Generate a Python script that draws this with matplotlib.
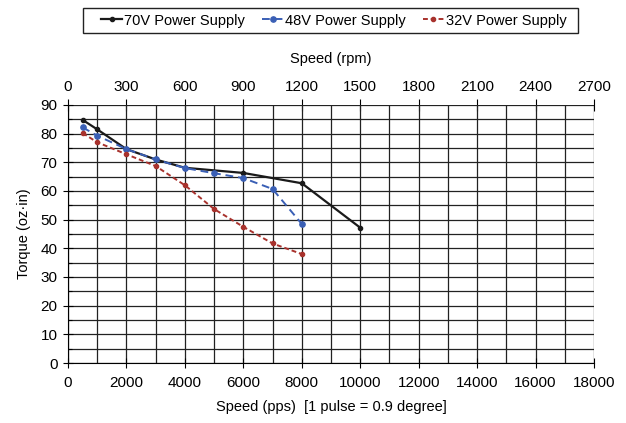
import matplotlib.pyplot as plt
from matplotlib.patches import Rectangle
from matplotlib.ticker import MultipleLocator

plt.rcParams['font.family'] = ['Liberation Sans', 'DejaVu Sans']

speed_70 = [500, 1000, 2000, 3000, 4000, 6000, 8000, 10000]
torque_70 = [84.8, 81.5, 74.6, 71.0, 68.1, 66.3, 62.7, 47.2]

speed_48 = [500, 1000, 2000, 3000, 4000, 5000, 6000, 7000, 8000]
torque_48 = [82.2, 79.3, 74.6, 71.0, 68.0, 66.2, 64.5, 60.7, 48.5]

speed_32 = [500, 1000, 2000, 3000, 4000, 5000, 6000, 7000, 8000]
torque_32 = [80.2, 77.0, 72.8, 68.7, 62.0, 53.7, 47.5, 41.7, 38.0]

tick_fs = 11
label_fs = 10.5
fig = plt.figure(figsize=(6.26, 4.23), dpi=100)
ax = fig.add_axes([68 / 626, 1 - 363 / 423, (594 - 68) / 626, (363 - 105) / 423])

ax.plot(speed_70, torque_70, color='#1a1a1a', lw=1.6, marker='o', ms=3,
        label='70V Power Supply')
ax.plot(speed_48, torque_48, color='#3a5fb5', lw=1.4, ls=(0, (4, 2.5)), marker='o', ms=3.8,
        label='48V Power Supply')
ax.plot(speed_32, torque_32, color='#a8322d', lw=1.4, ls=(0, (2.5, 1.5)), marker='o', ms=3,
        label='32V Power Supply')

ax.set_xlim(0, 18000)
ax.set_ylim(0, 90)
ax.xaxis.set_major_locator(MultipleLocator(2000))
ax.xaxis.set_minor_locator(MultipleLocator(1000))
ax.yaxis.set_major_locator(MultipleLocator(10))
ax.yaxis.set_minor_locator(MultipleLocator(5))
ax.grid(which='both', color='#222222', lw=0.9)
ax.set_axisbelow(True)
for s in ax.spines.values():
    s.set_visible(False)
ax.spines['left'].set_visible(True)
ax.spines['bottom'].set_visible(True)
ax.tick_params(which='major', labelsize=tick_fs, length=7, width=0.8, direction='inout')
ax.tick_params(axis='x', which='major', pad=6)
ax.tick_params(axis='y', which='major', pad=4)
ax.tick_params(which='minor', length=3, width=0.8, direction='in')
ax.tick_params(axis='x', which='minor', length=0)

ax.set_xlabel('Speed (pps)  [1 pulse = 0.9 degree]', fontsize=label_fs, labelpad=7)
ax.set_ylabel('Torque (oz·in)', fontsize=label_fs, labelpad=7)

top = ax.secondary_xaxis('top', functions=(lambda x: x * 0.15, lambda r: r / 0.15))
top.set_xticks(range(0, 2701, 300))
top.tick_params(labelsize=tick_fs, length=8, width=0.8, direction='inout', pad=4)
top.spines['top'].set_visible(False)
top.set_xlabel('Speed (rpm)', fontsize=label_fs, labelpad=12)

# legend entries spread across the box, frame drawn separately
leg = fig.legend(loc='center left', bbox_to_anchor=(101 / 626, 1 - 33 / 423, 466 / 626, 25 / 423),
                 mode='expand', ncol=3, fontsize=label_fs, frameon=False,
                 handlelength=1.45, handletextpad=0.15, columnspacing=1.0,
                 borderpad=0.0, borderaxespad=0)
fig.patches.append(Rectangle((83 / 626, 1 - 33 / 423), 495 / 626, 25 / 423,
                             transform=fig.transFigure, fill=False,
                             edgecolor='#222222', lw=1.0))

fig.savefig('out.png', dpi=100)
